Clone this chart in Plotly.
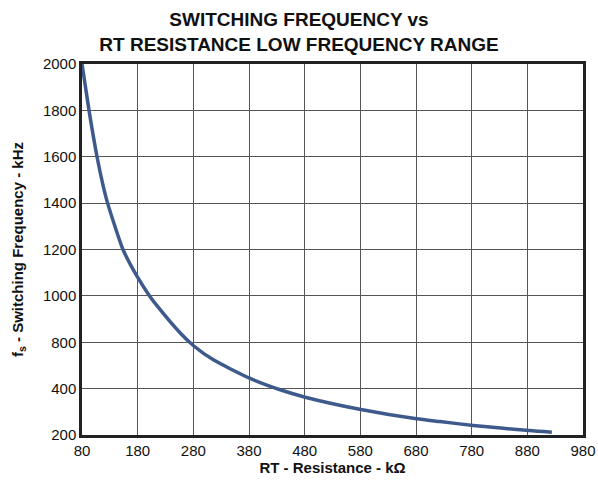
import plotly.graph_objects as go

# Curve (x in kOhm, y in the chart's linear grid units)
rt_kohm = [80, 92.6, 107, 117.7, 126, 153.6, 178.7, 201.4, 215, 256.5, 280.4,
           316, 381, 436, 481, 581, 681, 723, 783, 883, 924]
fs_khz = [2000, 1800, 1600, 1478, 1400, 1200, 1085, 1000, 957, 840, 785,
          724, 645, 595, 563, 510, 470, 458, 441, 419, 412]

x_ticks = [80, 180, 280, 380, 480, 580, 680, 780, 880, 980]
y_tick_pos = [400, 600, 800, 1000, 1200, 1400, 1600, 1800, 2000]
y_tick_text = ["200", "400", "800", "1000", "1200", "1400", "1600", "1800", "2000"]

fig = go.Figure()
fig.add_trace(go.Scatter(
    x=rt_kohm, y=fs_khz, mode="lines",
    line=dict(color="#3e5a8c", width=3.5, shape="spline", smoothing=0.6),
    showlegend=False, hoverinfo="skip",
))

font_family = "Liberation Sans, Arial, sans-serif"

fig.update_layout(
    width=598, height=481,
    margin=dict(l=82, r=15, t=64, b=46),
    paper_bgcolor="white", plot_bgcolor="white",
    font=dict(family=font_family, color="#111"),
    title=dict(
        text="<b>SWITCHING FREQUENCY vs<br>RT RESISTANCE LOW FREQUENCY RANGE</b>",
        x=0.5, xanchor="center", y=0.945, yanchor="top",
        font=dict(size=19, family=font_family, color="#111"),
    ),
)

fig.update_xaxes(
    range=[80, 980], tickvals=x_ticks, ticktext=[str(v) for v in x_ticks],
    showgrid=True, gridcolor="#555", gridwidth=1.3,
    showline=True, linecolor="#222", linewidth=2.5, mirror=True,
    ticks="", tickfont=dict(size=15, family=font_family, color="#111"),
    title=dict(text="<b>RT - Resistance - k\u03a9</b>", standoff=4,
               font=dict(size=15, family=font_family, color="#111")),
    zeroline=False, automargin=False,
)
fig.update_yaxes(
    range=[400, 2000], tickvals=y_tick_pos, ticktext=y_tick_text,
    showgrid=True, gridcolor="#555", gridwidth=1.3,
    showline=True, linecolor="#222", linewidth=2.5, mirror=True,
    ticks="", tickfont=dict(size=15, family=font_family, color="#111"),
    title=dict(text="<b>f<sub>s</sub> - Switching Frequency - kHz</b>", standoff=16,
               font=dict(size=15, family=font_family, color="#111")),
    zeroline=False, automargin=False,
)

fig.write_html("out.html", config={"displayModeBar": False},
               post_script="document.body.style.margin='0';")
